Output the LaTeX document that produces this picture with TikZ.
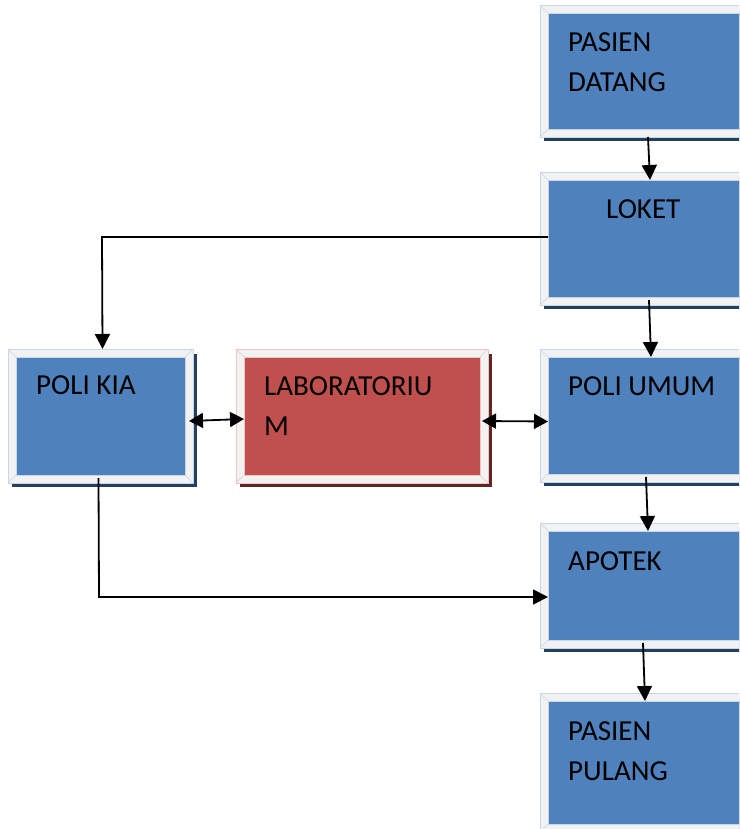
\documentclass[tikz,border=0pt]{standalone}
\usepackage{fontspec}
\setmainfont{Carlito}
\usetikzlibrary{arrows.meta}
\definecolor{boxblue}{HTML}{4F81BD}
\definecolor{boxred}{HTML}{C0504D}
\definecolor{framegray}{HTML}{F2F2F2}
\definecolor{shblue}{HTML}{243F60}
\definecolor{shred}{HTML}{632523}
\definecolor{edgeblue}{HTML}{C6D6EA}
\definecolor{edgered}{HTML}{EBC6C5}
\newcommand{\bevbox}[8]{%
  \fill[#7] ({#2+4},{#3+5}) rectangle ({#4+4},{#5+4});
  \fill[framegray] (#2,#3) rectangle (#4,#5);
  \draw[#8, line width=0.7pt] (#2,#3) rectangle (#4,#5);
  \draw[#8, line width=0.5pt] (#2,#3) -- ({#2+8},{#3+8}) (#4,#3) -- ({#4-8},{#3+8})
     (#2,#5) -- ({#2+8},{#5-8}) (#4,#5) -- ({#4-8},{#5-8});
  \node[fill=#6, draw=#8, line width=0.5pt, inner sep=0pt, outer sep=0pt,
        minimum width={#4-#2-16}, minimum height={#5-#3-16}]
        (#1) at ({(#2+#4)/2},{(#3+#5)/2}) {};
}
\tikzset{
  lbl/.style={font=\fontsize{29}{40}\selectfont, inner sep=0pt, anchor=base west, align=left, text=black},
  arr/.style={line width=1.8pt, -{Triangle[length=15pt,width=15pt]}},
  darr/.style={line width=1.8pt, {Triangle[length=14pt,width=15pt]}-{Triangle[length=14pt,width=15pt]}},
}
\begin{document}
\begin{tikzpicture}[x=1pt,y=-1pt]
\useasboundingbox (0,0) rectangle (739,829);
\clip (0,0) rectangle (739,829);
\fill[white] (0,0) rectangle (739,829);
% right column
\bevbox{pd}{540}{5}{754}{137}{boxblue}{shblue}{edgeblue}
\bevbox{loket}{540}{172}{754}{305}{boxblue}{shblue}{edgeblue}
\bevbox{pu}{540}{349}{754}{482}{boxblue}{shblue}{edgeblue}
\bevbox{apotek}{540}{523}{754}{648}{boxblue}{shblue}{edgeblue}
\bevbox{pp}{540}{693}{754}{832}{boxblue}{shblue}{edgeblue}
% left
\bevbox{kia}{8}{349}{193}{483}{boxblue}{shblue}{edgeblue}
\bevbox{lab}{236}{349}{488}{483}{boxred}{shred}{edgered}
% texts (multi-line nodes anchored at the last line's baseline)
\node[lbl] (pdt) at (568,92) {PASIEN\\DATANG};
\node[lbl] (lokett) at (606,218) {LOKET};
\node[lbl] (put) at (568,395) {POLI UMUM};
\node[lbl] (apotekt) at (568,570) {APOTEK};
\node[lbl] (ppt) at (568,780) {PASIEN\\PULANG};
\node[lbl] (kiat) at (36,394) {POLI KIA};
\node[lbl] (labt) at (264,435) {LABORATORIU\\M};
% vertical arrows
\draw[arr] ([shift={(1,8)}]pd.south) -- ([shift={(3,0)}]loket.north);
\draw[arr] ([shift={(2,3)}]loket.south) -- ([shift={(4,0)}]pu.north);
\draw[arr] ([shift={(-1,3)}]pu.south) -- ([shift={(1,0)}]apotek.north);
\draw[arr] ([shift={(-4,3)}]apotek.south) -- ([shift={(-2,0)}]pp.north);
% loket to poli kia
\coordinate (c1) at (102,237);
\draw[arr] (loket.west |- c1) -- (c1) -- ([shift={(2,-8)}]kia.north);
% poli kia to apotek
\coordinate (c2) at (99,597);
\draw[arr] ([shift={(-2,3)}]kia.south) -- (c2) -- (apotek.west |- c2);
% double arrows
\draw[darr] ([shift={(4,5)}]kia.east) -- ([shift={(0,3)}]lab.west);
\draw[darr] ([shift={(2,5)}]lab.east) -- ([shift={(0,6)}]pu.west);
\end{tikzpicture}
\end{document}
